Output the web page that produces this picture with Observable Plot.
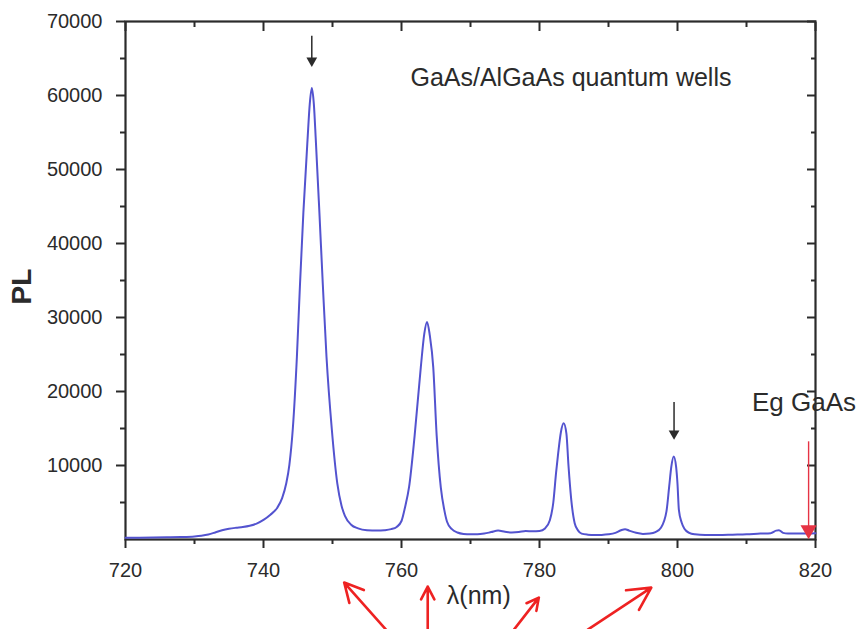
<!DOCTYPE html>
<html><head><meta charset="utf-8">
<script src="https://cdn.jsdelivr.net/npm/d3@7"></script>
<script src="https://cdn.jsdelivr.net/npm/@observablehq/plot@0.6"></script>
<style>body{margin:0;background:#fff;}</style>
</head><body><div id="chart"></div>
<script>
// PL spectrum (wavelength in nm, PL intensity)
const wavelength = [720,722,724,726,728,730,731,732,733,734,735,736,737,738,739,740,741,742,742.7,743.3,743.75,744.25,744.84,745.29,745.78,746.38,746.7,747.0,747.3,747.58,748.1,748.6,749.13,749.9,750.7,751.3,751.8,752.7,753.7,755,756.5,757.5,758.5,759.3,760.0,760.5,761.1,761.9,762.8,763.3,763.7,764.1,764.6,765.1,765.7,766.2,766.6,767.3,768.1,769,770,771,772,773,774,775,776,777,778,779,780,780.8,781.5,782,782.4,782.7,783.1,783.5,783.9,784.2,784.6,785.1,785.6,786.1,787,788,789,790,791,791.8,792.4,793,794,795,796,796.8,797.6,798.4,798.8,799.1,799.45,799.8,800.0,800.2,800.6,801.0,801.7,802.5,804,806,808,810,812,813.5,814.3,814.7,815.3,816,818,820];
const pl = [230,240,260,290,330,420,520,680,950,1250,1450,1580,1680,1850,2150,2650,3350,4300,5600,7600,10100,15000,24700,34500,44200,54000,58800,61000,58800,54000,44200,34400,24700,14900,7550,4600,3200,2000,1500,1250,1200,1250,1400,1700,2500,4300,7100,14000,23300,27800,29400,27600,23300,14000,7000,4000,2400,1400,950,750,700,700,800,1000,1200,1050,950,1000,1150,1100,1150,1500,2600,5000,9000,11600,14500,15700,14300,10000,5400,2200,1200,800,650,600,620,700,900,1250,1400,1200,900,750,800,1000,1600,3800,7200,9800,11200,9800,7500,4000,2300,1450,900,700,600,600,650,700,800,850,1200,1250,900,800,800,850];

// axis ticks
const xMajorTicks = [720,740,760,780,800,820];
const xMinorTicks = [730,750,770,790,810];
const yMajorTicks = [10000,20000,30000,40000,50000,60000,70000];
const yMinorTicks = [5000,15000,25000,35000,45000,55000,65000];

// labels and annotations
const xLabel = "λ(nm)";
const yLabel = "PL";
const annotationTexts = ["GaAs/AlGaAs quantum wells","Eg GaAs"];
const annotationX = [761.3, 810.8];
const annotationY = [62400, 18540];
const peakArrowX = [747.0, 799.5];
const peakArrowFrom = [68000, 18500];
const peakArrowTo = [64300, 13900];
const egArrowX = [819.0];
const egArrowFrom = [13200];
const egArrowTo = [900];
// hand-drawn red arrows below the axis (tail -> head)
const handX1 = [757.75, 763.8, 776.3, 787.0];
const handY1 = [-12180, -12180, -12180, -12180];
const handX2 = [751.7, 763.8, 779.9, 796.2];
const handY2 = [-5820, -6360, -7850, -6500];

const data = wavelength.map((w, i) => ({w, v: pl[i]}));
const notes = annotationTexts.map((t, i) => ({t, x: annotationX[i], y: annotationY[i], s: i === 0 ? 25 : 26}));
const peakArrows = peakArrowX.map((x, i) => ({x, y1: peakArrowFrom[i], y2: peakArrowTo[i]}));
const egArrows = egArrowX.map((x, i) => ({x, y1: egArrowFrom[i], y2: egArrowTo[i]}));
const hand = handX1.map((x1, i) => ({x1, y1: handY1[i], x2: handX2[i], y2: handY2[i]}));

const font = "'Liberation Sans', Arial, Helvetica, sans-serif";
const ink = "#2b2b2b";
const fmt = d => String(d);

const chart = Plot.plot({
  width: 866, height: 629,
  marginLeft: 125, marginRight: 51, marginTop: 21, marginBottom: 90,
  x: {domain: [720, 820]},
  y: {domain: [0, 70000]},
  style: {fontFamily: font, background: "white", color: ink, overflow: "visible"},
  marks: [
    Plot.frame({stroke: ink, strokeWidth: 2.2}),
    Plot.axisX(xMajorTicks, {anchor: "bottom", tickSize: 9, tickPadding: 14, fontSize: 20, tickFormat: fmt, label: null, strokeWidth: 2}),
    Plot.axisX(xMinorTicks, {anchor: "bottom", tickSize: 5, text: null, label: null, strokeWidth: 2}),
    Plot.axisX(xMajorTicks, {anchor: "top", tickSize: -9, text: null, label: null, strokeWidth: 2}),
    Plot.axisX(xMinorTicks, {anchor: "top", tickSize: -5, text: null, label: null, strokeWidth: 2}),
    Plot.axisY(yMajorTicks, {anchor: "left", tickSize: 9, tickPadding: 14, fontSize: 20, tickFormat: fmt, label: null, strokeWidth: 2}),
    Plot.axisY(yMinorTicks, {anchor: "left", tickSize: 5, text: null, label: null, strokeWidth: 2}),
    Plot.axisY(yMajorTicks, {anchor: "right", tickSize: -9, text: null, label: null, strokeWidth: 2}),
    Plot.axisY(yMinorTicks, {anchor: "right", tickSize: -5, text: null, label: null, strokeWidth: 2}),
    Plot.line(data, {x: "w", y: "v", stroke: "#5353cf", strokeWidth: 2, curve: "monotone-x"}),
    Plot.ruleX(peakArrows, {x: "x", y1: "y1", y2: "y2", stroke: ink, strokeWidth: 1.5}),
    Plot.dot(peakArrows, {x: "x", y: "y2", symbol: "triangle", r: 4, fill: ink, stroke: null, rotate: 180, dy: -3}),
    Plot.ruleX(egArrows, {x: "x", y1: "y1", y2: "y2", stroke: "#e63344", strokeWidth: 1.4}),
    Plot.dot(egArrows, {x: "x", y: "y2", symbol: "triangle", r: 6, fill: "#e63344", stroke: null, rotate: 180, dy: -3}),
    Plot.arrow(hand, {x1: "x1", y1: "y1", x2: "x2", y2: "y2", stroke: "#ee2222", strokeWidth: 2.6, headLength: 15, headAngle: 55, clip: false}),
    Plot.text(notes, {x: "x", y: "y", text: "t", textAnchor: "start", fontSize: "s", fill: ink}),
    Plot.text([xLabel], {x: [771.2], frameAnchor: "bottom", dy: 64, text: d => d, fontSize: 25, fill: ink}),
    Plot.text([yLabel], {frameAnchor: "left", dx: -103, dy: 24, rotate: -90, text: d => d, fontSize: 28, fontWeight: "bold", fill: ink})
  ]
});
document.getElementById("chart").appendChild(chart);
</script>
</body></html>
